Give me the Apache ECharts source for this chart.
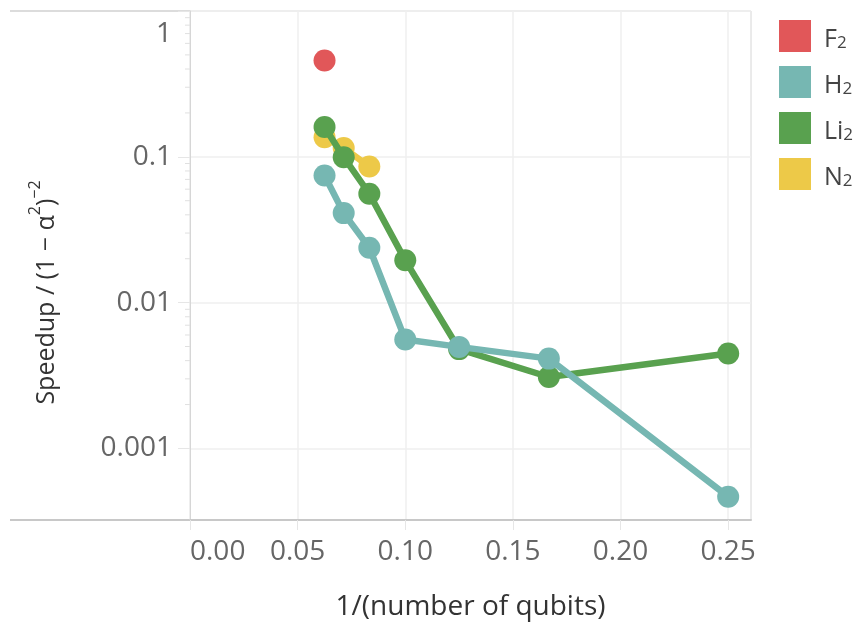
<!DOCTYPE html>
<html>
<head>
<meta charset="utf-8">
<script src="https://cdn.jsdelivr.net/npm/echarts@6/dist/echarts.min.js"></script>
<style>html,body{margin:0;padding:0;background:#fff;}#c{width:858px;height:626px;}</style>
</head>
<body>
<div id="c"></div>
<script>
// ---- data ----
var qubitInv = [0.0625, 0.0714, 0.0833, 0.1, 0.125, 0.1667, 0.25];
var F2 = [0.457];
var H2 = [0.0744, 0.0411, 0.0238, 0.00558, 0.00497, 0.00413, 0.000467];
var Li2 = [0.160, 0.0994, 0.0558, 0.0195, 0.0048, 0.00309, 0.00448];
var N2 = [0.136, 0.115, 0.0858];
var xTicks = [0, 0.05, 0.10, 0.15, 0.20, 0.25];
var yMinorTicks = [0.002,0.003,0.004,0.005,0.006,0.007,0.008,0.009,
                   0.02,0.03,0.04,0.05,0.06,0.07,0.08,0.09,
                   0.2,0.3,0.4,0.5,0.6,0.7,0.8,0.9];
var colors = {F2: '#E15759', H2: '#76B7B2', Li2: '#59A14F', N2: '#EDC948'};

function pairs(vals) { return vals.map(function (v, i) { return [qubitInv[i], v]; }); }

var FONT = 'Open Sans';
var chart = echarts.init(document.getElementById('c'), null, {renderer: 'canvas'});

function lineSeries(key, vals, z) {
  return {
    name: key, type: 'line', data: pairs(vals), z: z,
    symbol: 'circle', symbolSize: 22, showSymbol: true,
    lineStyle: {width: 6.5, color: colors[key]},
    itemStyle: {color: colors[key]},
    emphasis: {disabled: true}, animation: false
  };
}

var option = {
  animation: false,
  textStyle: {fontFamily: FONT},
  grid: {left: 190, right: 107, top: 11, bottom: 106, show: true, borderColor: '#d6d6d6', borderWidth: 1},
  legend: {
    orient: 'vertical', left: 774, top: 15,
    itemWidth: 32, itemHeight: 32, itemGap: 14, icon: 'rect',
    data: ['F2', 'H2', 'Li2', 'N2'],
    formatter: function (n) { return '{b|' + n.replace('2', '') + '}{s|2}'; },
    textStyle: {
      color: '#444', fontFamily: FONT,
      rich: {
        b: {fontSize: 25, fontFamily: FONT, color: '#444', verticalAlign: 'bottom', lineHeight: 32, padding: [0, 0, 0, 8]},
        s: {fontSize: 17, fontFamily: FONT, color: '#444', verticalAlign: 'bottom', lineHeight: 17}
      }
    },
    itemStyle: {borderWidth: 0}
  },
  xAxis: {
    type: 'value', min: 0, max: 0.2606, interval: 0.05,
    name: '1/(number of qubits)', nameLocation: 'middle', nameGap: 73,
    nameTextStyle: {fontSize: 28, color: '#333', fontFamily: FONT},
    axisLine: {show: true, lineStyle: {color: '#c8c8c8', width: 2}},
    axisTick: {show: true, length: 10, lineStyle: {color: '#e6e6e6'}, customValues: xTicks},
    axisLabel: {fontSize: 28, color: '#666', margin: 18, customValues: xTicks,
      formatter: function (v) { return v.toFixed(2); }, alignMinLabel: 'left'},
    splitLine: {show: true, lineStyle: {color: '#efefef', width: 1.5}}
  },
  yAxis: {
    type: 'log', logBase: 10, min: 0.000323, max: 1,
    name: '{m|Speedup / (1 \u2212 \u03b1}{p|2}{m|)}{p|\u22122}', nameLocation: 'middle', nameGap: 131, nameRotate: 90,
    nameTextStyle: {fontSize: 25, color: '#333', fontFamily: FONT, padding: [0, 54, 0, 0],
      rich: {
        m: {fontSize: 25, fontFamily: FONT, color: '#333', lineHeight: 32, verticalAlign: 'bottom'},
        p: {fontSize: 16, fontFamily: FONT, color: '#333', lineHeight: 16, verticalAlign: 'top'}
      }},
    axisLine: {show: true, lineStyle: {color: '#d6d6d6', width: 1}},
    axisTick: {show: true, length: 12, lineStyle: {color: '#e6e6e6'}},
    axisLabel: {fontSize: 28, color: '#666', margin: 18, showMinLabel: false,
      verticalAlignMaxLabel: 'top',
      formatter: function (v) {
        var s = String(+v.toPrecision(3));
        return s === '1' ? '{t|1}' : s;
      },
      rich: {t: {fontSize: 28, color: '#666', fontFamily: FONT, padding: [9, 0, 0, 0]}}},
    splitLine: {show: true, lineStyle: {color: '#efefef', width: 1.5}}
  },
  graphic: [
    {type: 'line', shape: {x1: 10, y1: 11, x2: 190, y2: 11}, style: {stroke: '#d0d0d0', lineWidth: 1.5}},
    {type: 'line', shape: {x1: 10, y1: 520, x2: 190, y2: 520}, style: {stroke: '#c8c8c8', lineWidth: 2}}
  ],
  series: [
    {
      name: 'minorTicks', type: 'custom', silent: true, clip: false, z: 1,
      data: yMinorTicks.map(function (v) { return [0, v]; }),
      renderItem: function (params, api) {
        var p = api.coord([0, api.value(1)]);
        return {type: 'line', shape: {x1: p[0] - 5, y1: p[1], x2: p[0], y2: p[1]},
          style: {stroke: '#e0e0e0', lineWidth: 1}};
      }
    },
    lineSeries('N2', N2, 2),
    lineSeries('Li2', Li2, 3),
    lineSeries('H2', H2, 4),
    lineSeries('F2', F2, 5)
  ]
};
chart.setOption(option);
</script>
</body>
</html>
